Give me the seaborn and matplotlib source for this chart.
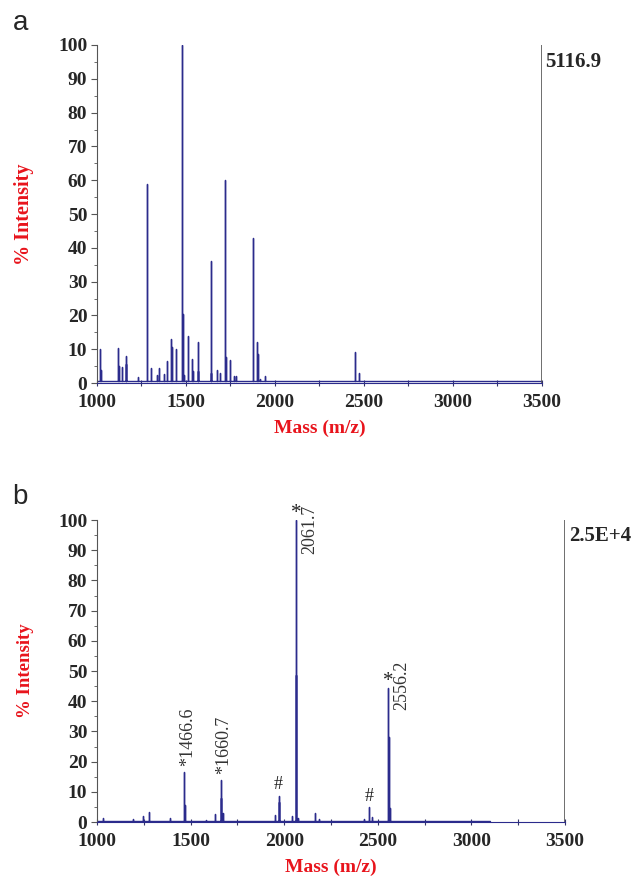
import matplotlib
matplotlib.use("Agg")
import matplotlib.pyplot as plt
from matplotlib.ticker import MultipleLocator
import pandas as pd
import seaborn as sns

# Panel a: MALDI peaks (m/z, % intensity)
mz_a = [1017, 1020, 1120, 1122, 1138, 1161, 1163, 1232, 1282, 1303, 1340, 1350,
        1375, 1396, 1415, 1420, 1442, 1479, 1481, 1488, 1509, 1535, 1540, 1565,
        1570, 1638, 1642, 1676, 1691, 1722, 1726, 1747, 1770, 1781, 1878, 1901,
        1906, 1915, 1945, 2452, 2470]
int_a = [10, 4, 10.3, 5, 4.7, 8, 5.5, 1.8, 59, 4.4, 2.3, 4.5,
         2.8, 6.5, 13.1, 10.8, 10.2, 100, 20.5, 2.3, 13.8, 7.2, 3.7, 12.1,
         3.7, 36, 3, 3.9, 3, 60, 7.7, 6.9, 2, 2.2, 43, 12.1,
         8.7, 1.3, 2, 9.3, 3]

# Panel b
mz_b = [1030, 1194, 1248, 1278, 1390, 1466.6, 1470, 1580, 1630, 1660.7, 1664,
        1675, 1951, 1970, 1974, 2043, 2061.7, 2063, 2075, 2165, 2185, 2425,
        2455, 2470, 2556.2, 2559, 2565]
int_b = [1.2, 0.9, 2, 3.2, 1.2, 16.7, 5.6, 0.7, 2.6, 13.9, 7.8,
         2.9, 2.3, 8.7, 6.7, 2.1, 100, 48.7, 1.4, 2.9, 1, 1,
         4.9, 1.8, 44.3, 28.2, 4.6]

star_left_mz = [1466.6, 1660.7]
star_left_int = [16.7, 13.9]
star_right_mz = [2061.7, 2556.2]
star_right_int = [100, 44.3]
hash_mz = [1968, 2455]
hash_int = [8.7, 4.9]

x_ticks = [1000, 1500, 2000, 2500, 3000, 3500]
y_ticks = [0, 10, 20, 30, 40, 50, 60, 70, 80, 90, 100]

sns.set_style("ticks")
plt.rcParams["font.family"] = ["Liberation Serif", "DejaVu Serif"]

LINE = "#2b2b8c"
RED = "#e8141c"


def spectrum(mz, inten, base, end):
    xs, ys = [1000], [base]
    for m, h in sorted(zip(mz, inten)):
        xs += [m, m, m]
        ys += [base, h, base]
    xs.append(end)
    ys.append(base)
    return pd.DataFrame({"mz": xs, "intensity": ys})


def style_axis(ax, ylabel_size):
    ax.set_xlim(1000, 3500)
    ax.set_ylim(0, 100)
    ax.set_xticks(x_ticks)
    ax.set_yticks(y_ticks)
    ax.xaxis.set_minor_locator(MultipleLocator(250))
    ax.yaxis.set_minor_locator(MultipleLocator(5))
    ax.tick_params(axis="y", which="major", direction="out", length=4, width=0.8,
                   labelsize=14, pad=3, color="#555555")
    ax.tick_params(axis="y", which="minor", direction="out", length=2.5, width=0.6,
                   color="#555555")
    ax.tick_params(axis="x", which="both", direction="inout", length=4, width=0.8,
                   labelsize=14, pad=6, color="#333366")
    for lab in ax.get_xticklabels() + ax.get_yticklabels():
        lab.set_fontweight("bold")
    sns.despine(ax=ax)
    ax.spines["left"].set_color("#555555")
    ax.spines["bottom"].set_color(LINE)
    ax.axvline(3500, color="#555555", lw=1.2)
    ax.set_xlabel("Mass (m/z)", color=RED, fontsize=14, fontweight="bold", labelpad=6)
    ax.set_ylabel("% Intensity", color=RED, fontsize=ylabel_size, fontweight="bold",
                  labelpad=17)


fig = plt.figure(figsize=(6.33, 8.84), dpi=100)
ax_a = fig.add_axes([0.1532, 0.5667, 0.7030, 0.3824])
ax_b = fig.add_axes([0.1532, 0.0701, 0.7394, 0.3416])

# Panel a
sns.lineplot(data=spectrum(mz_a, int_a, 0.5, 3500), x="mz", y="intensity",
             sort=False, estimator=None, color=LINE, lw=1.0, ax=ax_a)
style_axis(ax_a, 14.5)
ax_a.text(3520, 98, "5116.9", fontsize=15, fontweight="bold", va="top", ha="left",
          clip_on=False)

# Panel b
sns.lineplot(data=spectrum(mz_b, int_b, 0.4, 3100), x="mz", y="intensity",
             sort=False, estimator=None, color=LINE, lw=1.0, ax=ax_b)
style_axis(ax_b, 13.5)
ax_b.text(3520, 98, "2.5E+4", fontsize=15, fontweight="bold", va="top", ha="left",
          clip_on=False)

for m, h in zip(star_left_mz, star_left_int):
    ax_b.text(m + 18, h + 2, "*" + f"{m:.1f}", rotation=90, ha="center", va="bottom",
              fontsize=13, color="#333333")
for m, h in zip(star_right_mz, star_right_int):
    ax_b.text(m, h - 1, "*", ha="center", va="bottom", fontsize=15, color="#222222",
              clip_on=False)
    ax_b.text(m + 28, h + (5 if h > 90 else 9), f"{m:.1f}", rotation=90, ha="left",
              va="top", fontsize=13, color="#333333", clip_on=False)
for m, h in zip(hash_mz, hash_int):
    ax_b.text(m, h + 0.8, "#", ha="center", va="bottom", fontsize=13, color="#222222")

fig.text(0.032, 0.974, "a", fontsize=20, family="Liberation Sans", ha="center", va="center")
fig.text(0.032, 0.438, "b", fontsize=20, family="Liberation Sans", ha="center", va="center")

fig.savefig("out.png", dpi=100)
